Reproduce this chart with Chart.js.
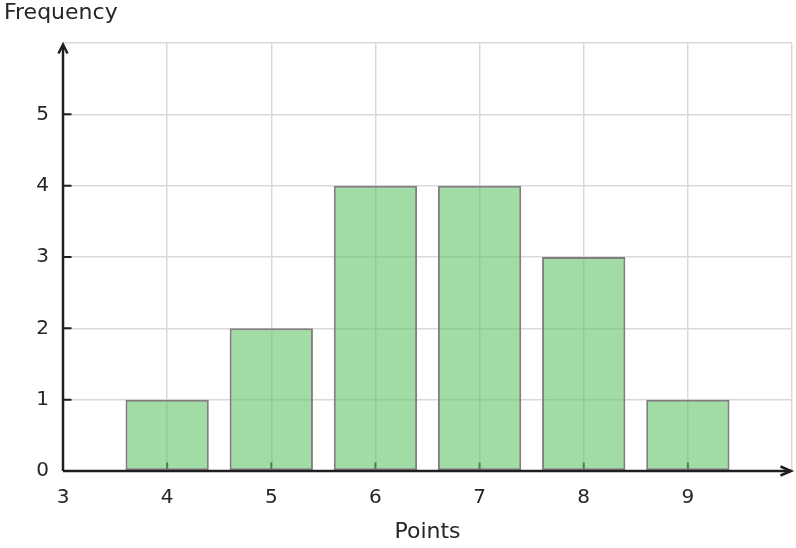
<!DOCTYPE html>
<html>
<head>
<meta charset="utf-8">
<script src="https://cdn.jsdelivr.net/npm/chart.js@4"></script>
<style>
  body { margin: 0; background: #fff; }
  .wrap { width: 796px; height: 548px; position: relative; }
</style>
</head>
<body>
<div class="wrap"><canvas id="myChart"></canvas></div>
<script>
// values
const points = [4, 5, 6, 7, 8, 9];
const frequency = [1, 2, 4, 4, 3, 1];
const xLimits = [3, 10];
const yLimits = [0, 6];

const textColor = "#262626";
const axisColor = "#1f1f1f";
const font = "DejaVu Sans";

// tick marks go under the bars, axis lines with arrows go on top
const axesPlugin = {
  id: "axes",
  beforeDatasetsDraw(chart) {
    const ctx = chart.ctx;
    const x = chart.scales.x, y = chart.scales.y;
    const area = chart.chartArea;
    ctx.save();
    ctx.strokeStyle = axisColor;
    ctx.lineWidth = 2;
    ctx.beginPath();
    x.ticks.forEach(t => {
      if (t.value <= xLimits[0] || t.value >= xLimits[1]) return;
      const px = x.getPixelForValue(t.value);
      ctx.moveTo(px, area.bottom);
      ctx.lineTo(px, area.bottom - 8.5);
    });
    y.ticks.forEach(t => {
      if (t.value <= yLimits[0] || t.value >= yLimits[1]) return;
      const py = y.getPixelForValue(t.value);
      ctx.moveTo(area.left, py);
      ctx.lineTo(area.left + 8.5, py);
    });
    ctx.stroke();
    ctx.restore();
  },
  afterDatasetsDraw(chart) {
    const ctx = chart.ctx;
    const a = chart.chartArea;
    ctx.save();
    ctx.strokeStyle = axisColor;
    ctx.lineWidth = 2.5;
    ctx.beginPath();
    ctx.moveTo(a.left, a.bottom);
    ctx.lineTo(a.left, a.top + 2);
    ctx.moveTo(a.left, a.bottom);
    ctx.lineTo(a.right - 1, a.bottom);
    ctx.stroke();
    // arrow heads
    ctx.beginPath();
    ctx.moveTo(a.left - 4.5, a.top + 10.5);
    ctx.lineTo(a.left, a.top + 1.5);
    ctx.lineTo(a.left + 4.5, a.top + 10.5);
    ctx.moveTo(a.right - 11.5, a.bottom - 4.5);
    ctx.lineTo(a.right - 1, a.bottom);
    ctx.lineTo(a.right - 11.5, a.bottom + 4.5);
    ctx.stroke();
    ctx.restore();
  },
  afterDraw(chart) {
    const ctx = chart.ctx;
    ctx.save();
    ctx.fillStyle = textColor;
    ctx.font = "22px '" + font + "'";
    ctx.textBaseline = "middle";
    ctx.textAlign = "left";
    ctx.fillText("Frequency", 4, 13);
    ctx.restore();
  }
};

new Chart(document.getElementById("myChart"), {
  type: "bar",
  data: {
    datasets: [{
      data: points.map((p, i) => ({ x: p, y: frequency[i] })),
      backgroundColor: "rgba(98, 196, 104, 0.6)",
      borderColor: "#808080",
      borderWidth: 2,
      borderSkipped: false,
      barPercentage: 0.8,
      categoryPercentage: 1.0
    }]
  },
  plugins: [axesPlugin],
  options: {
    responsive: true,
    maintainAspectRatio: false,
    animation: false,
    layout: { padding: { top: 43, right: 4, left: 0, bottom: 0 } },
    plugins: {
      legend: { display: false },
      tooltip: { enabled: false }
    },
    scales: {
      x: {
        type: "linear",
        min: xLimits[0],
        max: xLimits[1],
        offset: false,
        afterFit(scale) {
          scale.height = 77;
          scale.paddingLeft = 0;
          scale.paddingRight = 0;
        },
        grid: { color: "#d9d9d9", lineWidth: 1.5, drawTicks: false, offset: false },
        border: { display: false },
        ticks: {
          stepSize: 1,
          autoSkip: false,
          maxRotation: 0,
          padding: 15,
          color: textColor,
          font: { family: font, size: 20 },
          callback: v => (v >= xLimits[1] ? "" : v)
        },
        title: {
          display: true,
          text: "Points",
          color: textColor,
          font: { family: font, size: 22 },
          padding: { top: 0, bottom: 3 }
        }
      },
      y: {
        min: yLimits[0],
        max: yLimits[1],
        afterFit(scale) { scale.width = 63; },
        grid: { color: "#d9d9d9", lineWidth: 1.5, drawTicks: false },
        border: { display: false },
        ticks: {
          stepSize: 1,
          autoSkip: false,
          padding: 14,
          color: textColor,
          font: { family: font, size: 20 },
          callback: v => (v >= yLimits[1] ? "" : v)
        }
      }
    }
  }
});
</script>
</body>
</html>
